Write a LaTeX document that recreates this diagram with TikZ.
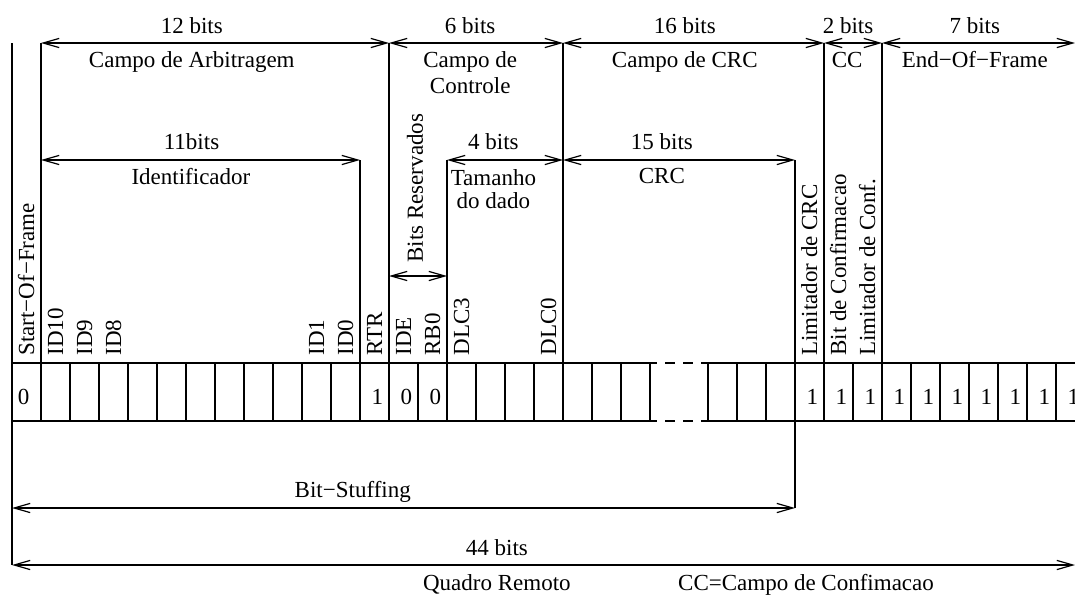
\documentclass[tikz,border=0pt]{standalone}
\usepackage{fontspec}
\setmainfont{Liberation Serif}
\usetikzlibrary{arrows.meta}

\tikzset{
  dim/.style={line width=0.6pt, {Straight Barb[length=8pt,width=4.6pt]}-{Straight Barb[length=8pt,width=4.6pt]}},
  guide/.style={line width=0.6pt},
  cellline/.style={line width=0.7pt},
  lbl/.style={inner sep=0pt, anchor=base},
  vlbl/.style={inner sep=0pt, rotate=90, anchor=base west},
}

\begin{document}
\begin{tikzpicture}[x=14.5pt, y=-0.5pt, font=\fontsize{11.5}{13.8}\selectfont]
\useasboundingbox (-0.4138,0) rectangle (36.655,594);
% --- reference points (x in bits, y in px from top) ---
\coordinate (arbL) at (1,43);    \coordinate (arbR) at (13,43);
\coordinate (ctlR) at (19,43);   \coordinate (crcR) at (28,43);
\coordinate (ccR)  at (30,43);   \coordinate (eofR) at (36.655,43);
\coordinate (idL)  at (1,160);   \coordinate (idR)  at (12,160);
\coordinate (dlcL) at (15,160);  \coordinate (dlcR) at (19,160);
\coordinate (crcsR) at (27,160);
\coordinate (rsvL) at (13,276);  \coordinate (rsvR) at (15,276);
\coordinate (stfL) at (0,508);   \coordinate (stfR) at (27,508);
\coordinate (allL) at (0,565);   \coordinate (allR) at (36.655,565);
\coordinate (frmT) at (0,43);
% --- field boundaries ---
\draw[guide] (frmT) -- (allL);
\draw[guide] (arbL) -- (1,363);
\draw[guide] (arbR) -- (13,363);
\draw[guide] (ctlR) -- (19,363);
\draw[guide] (crcR) -- (28,363);
\draw[guide] (ccR) -- (30,363);
\draw[guide] (idR) -- (12,363);
\draw[guide] (dlcL) -- (15,363);
\draw[guide] (crcsR) -- (stfR);
% --- dimension arrows ---
\draw[dim] (arbL) -- (arbR);
\draw[dim] (arbR) -- (ctlR);
\draw[dim] (ctlR) -- (crcR);
\draw[dim] (crcR) -- (ccR);
\draw[dim] (ccR) -- (eofR);
\draw[dim] (idL) -- (idR);
\draw[dim] (dlcL) -- (dlcR);
\draw[dim] (dlcR) -- (crcsR);
\draw[dim] (rsvL) -- (rsvR);
\draw[dim] (stfL) -- (stfR);
\draw[dim] (allL) -- (allR);
% --- top labels ---
\node[lbl] (nArb) at (6.2,33) {12 bits};
\node[lbl] (tArb) at (6.2,67) {Campo de Arbitragem};
\node[lbl] (nCtl) at (15.8,33) {6 bits};
\node[lbl] (tCtl) at (15.8,67) {Campo de};
\node[lbl] (tCtl2) at (15.8,93) {Controle};
\node[lbl] (nCrc) at (23.2,33) {16 bits};
\node[lbl] (tCrc) at (23.2,67) {Campo de CRC};
\node[lbl] (nCc) at (28.83,33) {2 bits};
\node[lbl] (tCc) at (28.8,67) {CC};
\node[lbl] (nEof) at (33.2,33) {7 bits};
\node[lbl] (tEof) at (33.2,67) {End−Of−Frame};
\node[lbl] (nId) at (6.19,149) {11bits};
\node[lbl] (tId) at (6.17,184) {Identificador};
\node[lbl] (nDlc) at (16.6,149) {4 bits};
\node[lbl] (tDlc) at (16.6,185) {Tamanho};
\node[lbl] (tDlc2) at (16.6,208) {do dado};
\node[lbl] (nCrcs) at (22.41,149) {15 bits};
\node[lbl] (tCrcs) at (22.41,183) {CRC};
\node[vlbl] (tRsv) at (14.17,263) {Bits Reservados};
% --- bit names ---
\foreach \i/\name in {0/Start−Of−Frame, 1/ID10, 2/ID9, 3/ID8, 10/ID1, 11/ID0,
    12/RTR, 13/IDE, 14/RB0, 15/DLC3, 18/DLC0, 27/Limitador de CRC,
    28/Bit de Confirmacao, 29/Limitador de Conf.}
  \node[vlbl] (b\i) at (\i+0.76,356) {\name};
% --- bit cells ---
\draw[cellline] (0,363) -- (22.24,363) (24,363) -- (36.655,363);
\draw[cellline] (0,421) -- (22.24,421) (24,421) -- (36.655,421);
\draw[cellline, dash pattern=on 5pt off 4pt] (22.52,363) -- (24,363);
\draw[cellline, dash pattern=on 5pt off 4pt] (22.52,421) -- (24,421);
\foreach \i in {1,...,22,24,25,...,36}
  \draw[cellline] (\i,363) -- (\i,421);
% --- bit values ---
\node[lbl] (v0) at (0.4,404) {0};
\node[lbl] (v12) at (12.6,404) {1};
\node[lbl] (v13) at (13.6,404) {0};
\node[lbl] (v14) at (14.6,404) {0};
\foreach \i in {27,...,36}
  \node[lbl] (v\i) at (\i+0.6,404) {1};
% --- bottom labels ---
\node[lbl] (tStf) at (11.75,497) {Bit−Stuffing};
\node[lbl] (nAll) at (16.72,555) {44 bits};
\node[lbl] (tQr) at (16.72,590) {Quadro Remoto};
\node[lbl] (tCcl) at (27.38,590) {CC=Campo de Confimacao};
\end{tikzpicture}
\end{document}
